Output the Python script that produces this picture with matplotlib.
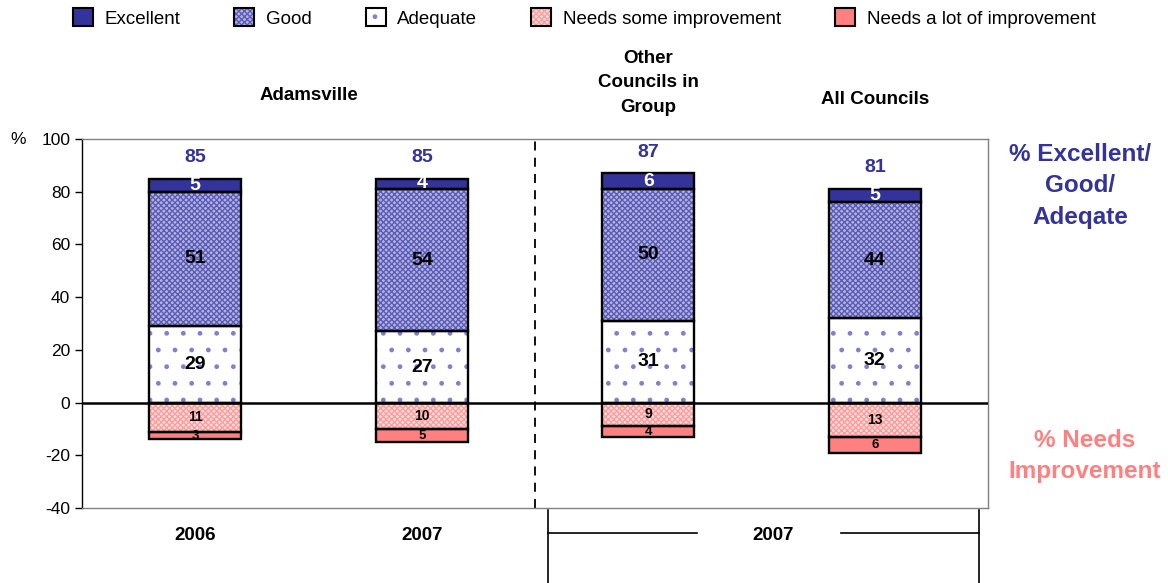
import matplotlib
matplotlib.use('Agg')
import matplotlib.pyplot as plt
import matplotlib.patches as mpatches
import numpy as np

plt.rcParams['font.family'] = ['Liberation Sans', 'DejaVu Sans']
plt.rcParams['hatch.linewidth'] = 1.0
plt.rcParams['axes.unicode_minus'] = False

groups = ['2006', '2007', '2007', '2007']
headers = ['Adamsville', 'Other\nCouncils in\nGroup', 'All Councils']
excellent = [5, 4, 6, 5]
good = [51, 54, 50, 44]
adequate = [29, 27, 31, 32]
some_impr = [11, 10, 9, 13]
lot_impr = [3, 5, 4, 6]

navy = '#333399'
pink = '#ff8080'

fig = plt.figure(figsize=(11.68, 5.83), dpi=100)
ax = fig.add_axes([0.0702, 0.1286, 0.7757, 0.633])

x = np.arange(len(excellent))
w = 0.405

def seg(bottom, height, face, hatch=None, hcol=None):
    # filled (and hatched) body, then a plain black outline on top
    ax.bar(x, height, w, bottom=bottom, color=face, hatch=hatch,
           edgecolor=hcol if hcol else face, linewidth=0, zorder=2)
    ax.bar(x, height, w, bottom=bottom, fill=False, edgecolor='black',
           linewidth=1.7, zorder=3)

ade = np.array(adequate)
gd = np.array(good)
ex = np.array(excellent)
so = np.array(some_impr)
lo = np.array(lot_impr)

seg(0, ade, 'white', '.', '#8080d0')
seg(ade, gd, '#b4b4e4', 'xxxxxx', '#5c5cb4')
seg(ade + gd, ex, navy)
seg(0, -so, '#ffe0e0', 'xxxxxx', '#ff9c9c')
seg(-so, -lo, pink)

totals = ade + gd + ex
for i in x:
    ax.text(i, ade[i] / 2, str(ade[i]), ha='center', va='center', fontsize=14,
            fontweight='bold', zorder=4)
    ax.text(i, ade[i] + gd[i] / 2, str(gd[i]), ha='center', va='center', fontsize=14,
            fontweight='bold', zorder=4)
    ax.text(i, totals[i] - ex[i] / 2, str(ex[i]), ha='center', va='center', fontsize=14,
            fontweight='bold', color='white', zorder=4)
    ax.text(i, totals[i] + 8, str(totals[i]), ha='center', va='center', fontsize=14,
            fontweight='bold', color=navy, zorder=4)
    ax.text(i, -so[i] / 2, str(so[i]), ha='center', va='center', fontsize=10,
            fontweight='bold', zorder=4)
    ax.text(i, -so[i] - lo[i] / 2, str(lo[i]), ha='center', va='center', fontsize=9.5,
            fontweight='bold', zorder=4)

ax.axhline(0, color='black', lw=1.8, zorder=4)
ax.axvline(1.5, color='black', lw=1.3, ls=(0, (5, 4)), zorder=1)

ax.set_xlim(-0.5, 3.5)
ax.set_ylim(-40, 100)
ax.set_yticks(range(-40, 101, 20))
ax.set_xticks([])
ax.tick_params(axis='y', labelsize=12.5, direction='out', length=5, width=1)
for s in ['top', 'right', 'bottom']:
    ax.spines[s].set_color('#808080')
    ax.spines[s].set_linewidth(1)
ax.spines['left'].set_linewidth(1)

fig.text(18 / 1168, 1 - 139 / 583, '%', fontsize=12.5, ha='center', va='center')

# headers over the bars
tr = ax.get_xaxis_transform()
ax.text(0.5, 1.119, headers[0], transform=tr, ha='center',
        va='center', fontsize=13.5, fontweight='bold')
ax.text(2, 1.152, headers[1], transform=tr, ha='center',
        va='center', fontsize=13.5, fontweight='bold', linespacing=1.6)
ax.text(3, 1.106, headers[2], transform=tr, ha='center',
        va='center', fontsize=13.5, fontweight='bold')

# year labels and group bracket below the axis
ax.text(0, -0.075, groups[0], transform=tr, ha='center', va='center', fontsize=13.5,
        fontweight='bold')
ax.text(1, -0.075, groups[1], transform=tr, ha='center', va='center', fontsize=13.5,
        fontweight='bold')
ax.text(2.55, -0.075, groups[2], transform=tr, ha='center', va='center', fontsize=13.5,
        fontweight='bold')
bk = dict(transform=tr, color='black', lw=1.2, clip_on=False)
ax.plot([1.557, 1.557], [-0.005, -0.21], **bk)
ax.plot([3.46, 3.46], [-0.005, -0.21], **bk)
ax.plot([1.557, 2.215], [-0.068, -0.068], **bk)
ax.plot([2.851, 3.46], [-0.068, -0.068], **bk)

fig.text(1080 / 1168, 1 - 186 / 583, '% Excellent/\nGood/\nAdeqate', color=navy,
         fontsize=17.5, fontweight='bold', ha='center', va='center', linespacing=1.45)
fig.text(1085 / 1168, 1 - 456 / 583, '% Needs\nImprovement', color=pink,
         fontsize=17.5, fontweight='bold', ha='center', va='center', linespacing=1.4)

# legend with hatched swatches and black outlines
def handle(face, hatch=None, hcol=None):
    body = mpatches.Patch(facecolor=face, hatch=hatch,
                          edgecolor=hcol if hcol else face, linewidth=0)
    edge = mpatches.Patch(fill=False, edgecolor='black', linewidth=1.5)
    return (body, edge)

handles = [handle(navy), handle('#b4b4e4', 'xxxxxx', '#5c5cb4'),
           handle('white', '.', '#8080d0'), handle('#ffe0e0', 'xxxxxx', '#ff9c9c'),
           handle(pink)]
labels = ['Excellent', 'Good', 'Adequate', 'Needs some improvement',
          'Needs a lot of improvement']
fig.legend(handles, labels, loc='center', bbox_to_anchor=(0.5, 1 - 18 / 583), ncol=5,
           frameon=False, fontsize=13.5, handlelength=1.07, handleheight=1.07,
           columnspacing=2.9, handletextpad=0.6)

fig.savefig('out.png', dpi=100)
